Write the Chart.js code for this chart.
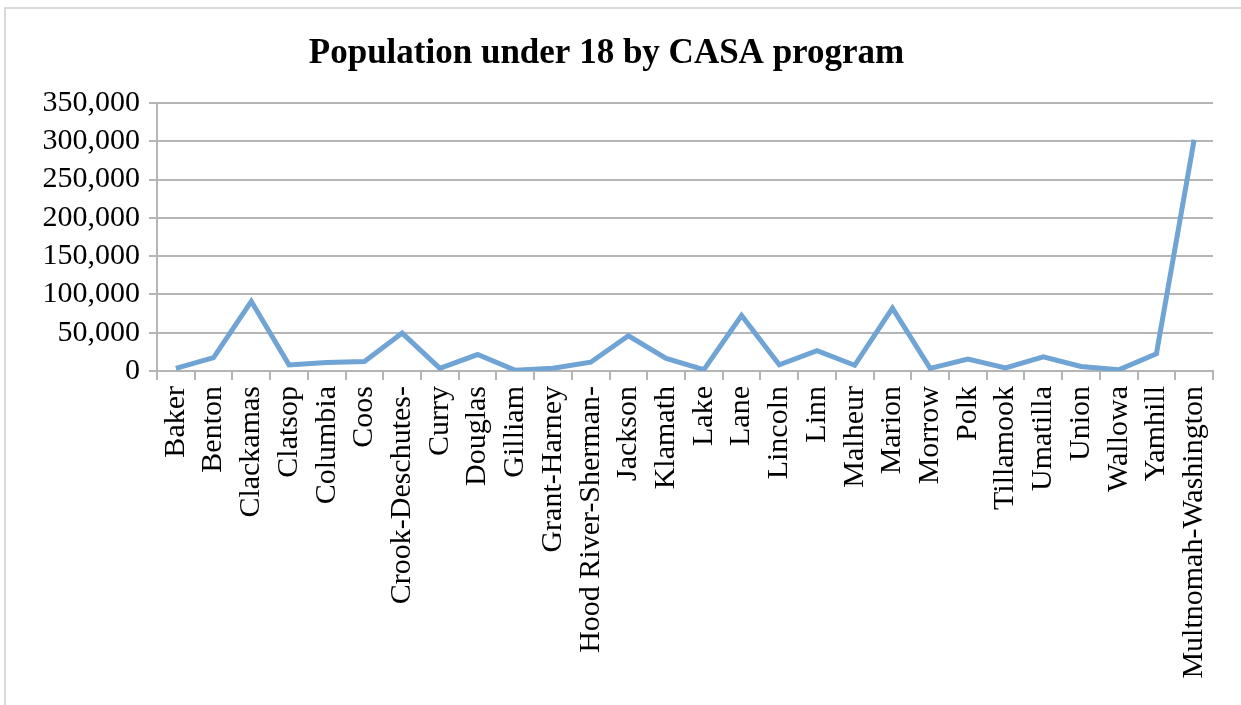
<!DOCTYPE html>
<html>
<head>
<meta charset="utf-8">
<script src="https://cdn.jsdelivr.net/npm/chart.js@4"></script>
<style>
    html, body { margin: 0; padding: 0; background: #fff; }
    #wrap { position: relative; width: 1241px; height: 705px; overflow: hidden; }
    #frame { position: absolute; left: 4px; top: 7px; width: 1300px; height: 800px; border: 2px solid #d9d9d9; }
    canvas { position: absolute; left: 0; top: 0; }
</style>
</head>
<body>
<div id="wrap">
    <div id="frame"></div>
    <canvas id="popChart" width="1241" height="705"></canvas>
</div>
<script>
// CASA programs and population under 18
const programs = ['Baker', 'Benton', 'Clackamas', 'Clatsop', 'Columbia', 'Coos', 'Crook-Deschutes-',
    'Curry', 'Douglas', 'Gilliam', 'Grant-Harney', 'Hood River-Sherman-', 'Jackson', 'Klamath', 'Lake',
    'Lane', 'Lincoln', 'Linn', 'Malheur', 'Marion', 'Morrow', 'Polk', 'Tillamook', 'Umatilla', 'Union',
    'Wallowa', 'Yamhill', 'Multnomah-Washington'];
const population = [3500, 17500, 91000, 8000, 11000, 12300, 49500,
    3500, 21500, 1000, 3500, 11500, 46000, 16500, 1800,
    72500, 8000, 26500, 7500, 82000, 3500, 15500, 4000, 18500, 6000,
    1500, 22500, 302000];
const yTicks = [0, 50000, 100000, 150000, 200000, 250000, 300000, 350000];

document.addEventListener('DOMContentLoaded', function () {
    const ctx = document.getElementById('popChart').getContext('2d');
    const serif = "'Liberation Serif', 'Times New Roman', serif";

    new Chart(ctx, {
        type: 'line',
        data: {
            labels: programs,
            datasets: [{
                label: 'Population under 18',
                data: population,
                borderColor: '#6fa4d4',
                borderWidth: 5,
                pointRadius: 0,
                tension: 0,
                fill: false
            }]
        },
        options: {
            responsive: false,
            animation: false,
            layout: { padding: { left: 0, right: 28, top: 0, bottom: 0 } },
            plugins: {
                legend: { display: false },
                tooltip: { enabled: false },
                title: {
                    display: true,
                    text: 'Population under 18 by CASA program',
                    color: '#000',
                    font: { family: serif, size: 35, weight: 'bold' },
                    padding: { top: 33, bottom: 28 }
                }
            },
            scales: {
                x: {
                    offset: true,
                    grid: { display: true, drawOnChartArea: false, offset: true, color: '#b5b5b5', lineWidth: 2, tickLength: 9 },
                    border: { color: '#b5b5b5', width: 2 },
                    ticks: {
                        autoSkip: false,
                        minRotation: 90,
                        maxRotation: 90,
                        padding: 6,
                        color: '#000',
                        font: { family: serif, size: 30 }
                    },
                    afterFit: function (axis) { axis.height = 334; }
                },
                y: {
                    min: 0,
                    max: 350000,
                    afterBuildTicks: function (axis) { axis.ticks = yTicks.map(v => ({ value: v })); },
                    grid: { color: '#b5b5b5', lineWidth: 2, tickLength: 8 },
                    border: { color: '#b5b5b5', width: 2 },
                    ticks: {
                        autoSkip: false,
                        padding: 9,
                        color: '#000',
                        font: { family: serif, size: 30 },
                        callback: function (value) { return value.toLocaleString('en-US'); }
                    },
                    afterFit: function (axis) { axis.width = 157; }
                }
            }
        }
    });
});
</script>
</body>
</html>
